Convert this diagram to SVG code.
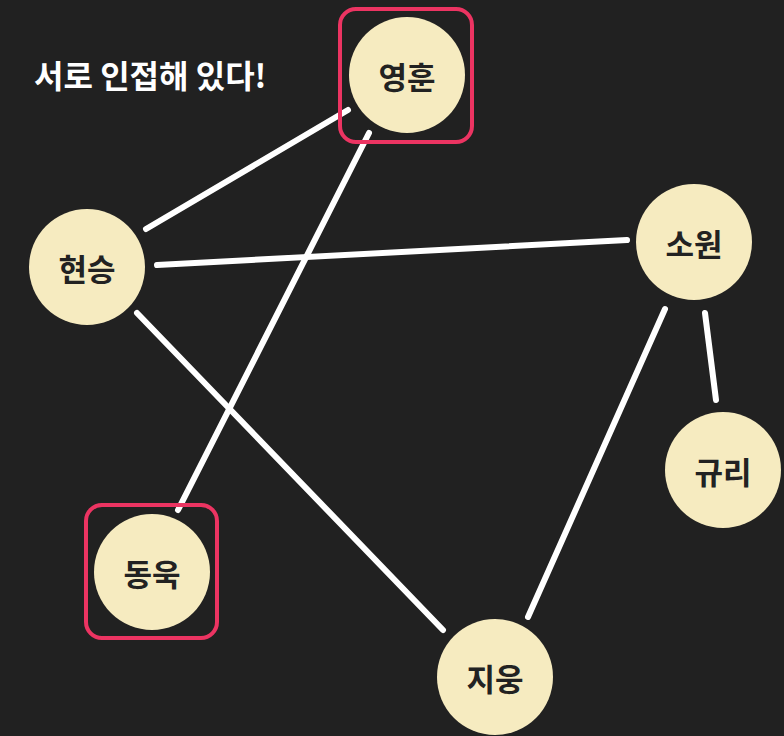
<svg xmlns="http://www.w3.org/2000/svg" width="784" height="736" viewBox="0 0 784 736">
<style>
.bg{fill:#212121}
.edge{stroke:#ffffff;stroke-width:6;stroke-linecap:round;fill:none}
.node{fill:#f6ebc0}
.lbl{font-family:"Noto Sans CJK KR","Noto Sans",sans-serif;font-weight:700;font-size:31px;fill:#222222;text-anchor:middle;dominant-baseline:central}
.hl{fill:none;stroke:#ec3462;stroke-width:4}
.title{font-family:"Noto Sans CJK KR","Noto Sans",sans-serif;font-weight:700;font-size:32px;fill:#ffffff}
</style>
<rect class="bg" x="0" y="0" width="784" height="736"/>
<text class="title" x="34" y="88">서로 인접해 있다!</text>
<g id="connectors">
<line class="edge" x1="146" y1="229" x2="348" y2="110"/>
<line class="edge" x1="369" y1="133" x2="178" y2="510"/>
<line class="edge" x1="157" y1="265" x2="627" y2="240"/>
<line class="edge" x1="137" y1="313" x2="443" y2="630"/>
<line class="edge" x1="665" y1="309" x2="528" y2="617"/>
<line class="edge" x1="705" y1="313" x2="716" y2="400"/>
</g>
<g id="node-younghoon">
<rect class="hl" x="340" y="9" width="132" height="133" rx="16"/>
<circle class="node" cx="407" cy="75" r="58"/>
<text class="lbl" x="407" y="75">영훈</text>
</g>
<g id="node-hyunseung">
<circle class="node" cx="87" cy="267" r="58"/>
<text class="lbl" x="87" y="267">현승</text>
</g>
<g id="node-sowon">
<circle class="node" cx="694" cy="242" r="58"/>
<text class="lbl" x="694" y="242">소원</text>
</g>
<g id="node-gyuri">
<circle class="node" cx="723" cy="470" r="58"/>
<text class="lbl" x="723" y="470">규리</text>
</g>
<g id="node-dongwook">
<rect class="hl" x="86" y="505" width="131" height="133" rx="16"/>
<circle class="node" cx="152" cy="572" r="58"/>
<text class="lbl" x="152" y="572">동욱</text>
</g>
<g id="node-jiwoong">
<circle class="node" cx="495" cy="677" r="58"/>
<text class="lbl" x="495" y="677">지웅</text>
</g>
</svg>
